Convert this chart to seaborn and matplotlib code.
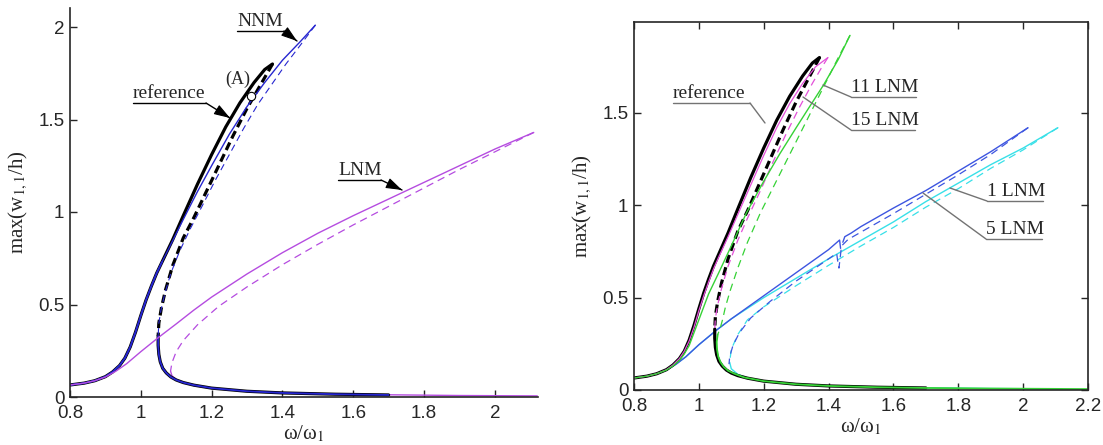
import matplotlib
matplotlib.use("Agg")
import matplotlib.pyplot as plt
from matplotlib.lines import Line2D
import seaborn as sns

# ---- reference solution (shared by both panels) ----
ref_up_w = [0.80, 0.84, 0.87, 0.90, 0.92, 0.94, 0.955, 0.97, 0.985, 1.00, 1.015, 1.03, 1.045, 1.06, 1.09, 1.12, 1.16, 1.20, 1.24, 1.28, 1.32, 1.35, 1.372]
ref_up_a = [0.065, 0.075, 0.088, 0.11, 0.135, 0.17, 0.21, 0.27, 0.35, 0.44, 0.525, 0.60, 0.67, 0.73, 0.85, 0.98, 1.15, 1.31, 1.46, 1.59, 1.70, 1.77, 1.80]
ref_un_w = [1.372, 1.36, 1.33, 1.30, 1.26, 1.22, 1.18, 1.15, 1.12, 1.09, 1.07, 1.058, 1.051, 1.049]
ref_un_a = [1.80, 1.76, 1.66, 1.56, 1.41, 1.25, 1.09, 0.97, 0.86, 0.71, 0.58, 0.48, 0.40, 0.33]
ref_lo_w = [1.049, 1.049, 1.051, 1.055, 1.062, 1.072, 1.085, 1.10, 1.12, 1.15, 1.20, 1.30, 1.40, 1.55, 1.70]
ref_lo_a = [0.33, 0.28, 0.23, 0.19, 0.155, 0.13, 0.108, 0.092, 0.078, 0.064, 0.048, 0.031, 0.022, 0.015, 0.011]

# ---- left panel: NNM and LNM ----
nnm_up_w = [0.80, 0.84, 0.87, 0.90, 0.92, 0.94, 0.955, 0.97, 0.985, 1.00, 1.015, 1.03, 1.045, 1.06, 1.09, 1.12, 1.16, 1.20, 1.25, 1.30, 1.35, 1.40, 1.45, 1.493]
nnm_up_a = [0.065, 0.075, 0.088, 0.11, 0.135, 0.17, 0.21, 0.27, 0.35, 0.44, 0.525, 0.60, 0.67, 0.73, 0.845, 0.96, 1.11, 1.25, 1.42, 1.57, 1.70, 1.82, 1.92, 2.01]
nnm_un_w = [1.493, 1.45, 1.41, 1.37, 1.33, 1.29, 1.25, 1.21, 1.17, 1.14, 1.11, 1.085, 1.068, 1.057, 1.051, 1.049]
nnm_un_a = [2.01, 1.90, 1.80, 1.69, 1.58, 1.45, 1.31, 1.17, 1.02, 0.91, 0.79, 0.67, 0.56, 0.47, 0.40, 0.33]

lnm_up_w = [0.80, 0.84, 0.87, 0.90, 0.93, 0.96, 1.00, 1.05, 1.10, 1.15, 1.20, 1.30, 1.40, 1.50, 1.60, 1.70, 1.80, 1.90, 2.00, 2.11]
lnm_up_a = [0.065, 0.075, 0.088, 0.108, 0.14, 0.18, 0.245, 0.322, 0.395, 0.47, 0.54, 0.665, 0.78, 0.885, 0.98, 1.07, 1.16, 1.25, 1.34, 1.43]
lnm_un_w = [2.11, 2.00, 1.90, 1.80, 1.70, 1.60, 1.50, 1.40, 1.30, 1.22, 1.16, 1.12, 1.10, 1.088, 1.084]
lnm_un_a = [1.43, 1.325, 1.23, 1.13, 1.03, 0.93, 0.825, 0.715, 0.595, 0.49, 0.39, 0.305, 0.245, 0.185, 0.14]
lnm_lo_w = [1.084, 1.088, 1.10, 1.12, 1.15, 1.20, 1.30, 1.40, 1.55, 1.70, 1.90, 2.12]
lnm_lo_a = [0.14, 0.115, 0.095, 0.078, 0.062, 0.046, 0.031, 0.023, 0.016, 0.012, 0.008, 0.006]

# ---- right panel: 1, 5, 11, 15 LNM ----
l15_up_w = [0.80, 0.84, 0.87, 0.90, 0.92, 0.94, 0.955, 0.97, 0.985, 1.00, 1.015, 1.03, 1.045, 1.06, 1.09, 1.12, 1.16, 1.20, 1.24, 1.28, 1.32, 1.36, 1.398]
l15_up_a = [0.065, 0.075, 0.088, 0.11, 0.135, 0.17, 0.21, 0.265, 0.34, 0.43, 0.51, 0.585, 0.655, 0.715, 0.83, 0.95, 1.11, 1.27, 1.42, 1.55, 1.66, 1.75, 1.80]
l15_un_w = [1.398, 1.38, 1.35, 1.31, 1.27, 1.23, 1.19, 1.15, 1.12, 1.09, 1.07, 1.058, 1.051, 1.049]
l15_un_a = [1.80, 1.75, 1.66, 1.53, 1.39, 1.24, 1.08, 0.93, 0.81, 0.67, 0.55, 0.46, 0.39, 0.33]

l11_up_w = [0.80, 0.84, 0.87, 0.90, 0.92, 0.94, 0.955, 0.97, 0.985, 1.00, 1.015, 1.03, 1.06, 1.10, 1.147, 1.20, 1.25, 1.30, 1.34, 1.384, 1.43, 1.466]
l11_up_a = [0.065, 0.075, 0.088, 0.108, 0.13, 0.16, 0.195, 0.24, 0.31, 0.38, 0.45, 0.52, 0.63, 0.78, 0.96, 1.13, 1.28, 1.42, 1.53, 1.65, 1.79, 1.92]
l11_un_w = [1.466, 1.43, 1.39, 1.35, 1.31, 1.27, 1.23, 1.19, 1.15, 1.12, 1.097, 1.082, 1.073, 1.065, 1.058]
l11_un_a = [1.92, 1.80, 1.66, 1.52, 1.38, 1.24, 1.10, 0.96, 0.80, 0.66, 0.54, 0.45, 0.38, 0.33, 0.30]
l11_lo_w = [1.058, 1.055, 1.056, 1.06, 1.067, 1.077, 1.09, 1.11, 1.14, 1.20, 1.30, 1.40, 1.55, 1.70, 1.90, 2.20]
l11_lo_a = [0.30, 0.26, 0.22, 0.18, 0.15, 0.125, 0.105, 0.088, 0.068, 0.048, 0.031, 0.022, 0.015, 0.011, 0.008, 0.005]

l1_up_w = [0.80, 0.84, 0.87, 0.90, 0.93, 0.96, 1.00, 1.055, 1.10, 1.20, 1.30, 1.40, 1.434, 1.437]
l1_up_a = [0.065, 0.075, 0.088, 0.108, 0.14, 0.18, 0.245, 0.325, 0.385, 0.51, 0.635, 0.76, 0.812, 0.767]
l1_up2_w = [1.444, 1.45, 1.47, 1.50, 1.60, 1.70, 1.80, 1.90, 2.015]
l1_up2_a = [0.80, 0.83, 0.85, 0.885, 0.985, 1.08, 1.185, 1.29, 1.42]
l1_un_w = [2.015, 1.90, 1.80, 1.70, 1.60, 1.50, 1.46, 1.44, 1.432, 1.428, 1.425, 1.40, 1.30, 1.22, 1.16, 1.125, 1.105, 1.095, 1.093]
l1_un_a = [1.42, 1.275, 1.165, 1.06, 0.955, 0.855, 0.815, 0.78, 0.66, 0.70, 0.74, 0.71, 0.59, 0.48, 0.39, 0.31, 0.24, 0.18, 0.14]

l5_up_w = [0.80, 0.84, 0.87, 0.90, 0.93, 0.96, 1.00, 1.055, 1.10, 1.20, 1.30, 1.40, 1.50, 1.60, 1.70, 1.80, 1.90, 2.00, 2.107]
l5_up_a = [0.065, 0.075, 0.088, 0.108, 0.14, 0.18, 0.245, 0.325, 0.385, 0.50, 0.605, 0.71, 0.81, 0.91, 1.02, 1.12, 1.22, 1.31, 1.42]
l5_un_w = [2.107, 2.00, 1.90, 1.80, 1.70, 1.60, 1.50, 1.40, 1.30, 1.20, 1.15, 1.12, 1.10, 1.095]
l5_un_a = [1.42, 1.30, 1.20, 1.09, 0.99, 0.88, 0.78, 0.675, 0.565, 0.45, 0.38, 0.30, 0.22, 0.15]
l5_lo_w = [1.095, 1.10, 1.12, 1.15, 1.20, 1.30, 1.40, 1.55, 1.70, 1.90, 2.12]
l5_lo_a = [0.15, 0.115, 0.085, 0.065, 0.047, 0.031, 0.023, 0.016, 0.012, 0.008, 0.006]

BLACK = "black"
NNM_C = "#2626d0"
LNM_C = "#b54ce0"
C15 = "#e34fd9"
C11 = "#36d236"
C1 = "#3d55e0"
C5 = "#38e0e8"

W, H = 1103, 445
THICK_DASH = (0, (2.6, 1.4))
THIN_DASH = (0, (6, 4))


def draw(ax, w, a, color, lw, ls="-"):
    sns.lineplot(x=w, y=a, ax=ax, color=color, linewidth=lw, linestyle=ls,
                 sort=False, estimator=None, legend=False)


def px(x, y):
    return (x / W, 1 - y / H)


def label(text, x0, x1, y_line, tip, line_color="black"):
    # underlined label with a leader line ending in an arrow
    fig.text(*px(x0, y_line - 1), text, fontsize=14, family="Liberation Serif",
             ha="left", va="bottom")
    fig.add_artist(Line2D([x0 / W, x1 / W], [1 - y_line / H] * 2,
                          transform=fig.transFigure, color=line_color, lw=1.0))
    tail = (x1, y_line) if tip[0] > x1 else (x0, y_line)
    fig.add_artist(Line2D([tail[0] / W, tip[0] / W], [1 - tail[1] / H, 1 - tip[1] / H],
                          transform=fig.transFigure, color=line_color, lw=1.0))
    ax1.annotate("", xy=px(*tip), xycoords="figure fraction",
                 xytext=px(tip[0] - (tip[0] - tail[0]) * 0.4, tip[1] - (tip[1] - tail[1]) * 0.4),
                 textcoords="figure fraction",
                 arrowprops=dict(arrowstyle="-|>,head_length=0.9,head_width=0.3",
                                 color="black", lw=0.8, shrinkA=0, shrinkB=0,
                                 mutation_scale=11))


sns.set_style("ticks")
plt.rcParams["font.family"] = ["Liberation Sans", "DejaVu Sans"]
plt.rcParams["mathtext.fontset"] = "stix"
plt.rcParams["xtick.direction"] = "in"
plt.rcParams["ytick.direction"] = "in"

fig = plt.figure(figsize=(W / 100, H / 100), dpi=100)
ax1 = fig.add_axes([70 / W, 1 - 397 / H, 468 / W, 389 / H])
ax2 = fig.add_axes([634 / W, 1 - 390 / H, 454 / W, 368 / H])

# left panel
draw(ax1, lnm_lo_w, lnm_lo_a, LNM_C, 1.0)
draw(ax1, lnm_un_w, lnm_un_a, LNM_C, 0.9, THIN_DASH)
draw(ax1, ref_up_w, ref_up_a, BLACK, 2.3)
draw(ax1, ref_un_w, ref_un_a, BLACK, 2.3, THICK_DASH)
draw(ax1, ref_lo_w, ref_lo_a, BLACK, 2.3)
draw(ax1, nnm_up_w, nnm_up_a, NNM_C, 1.0)
draw(ax1, nnm_un_w, nnm_un_a, NNM_C, 0.8, THIN_DASH)
draw(ax1, ref_lo_w, ref_lo_a, NNM_C, 1.3)
draw(ax1, ref_up_w[:14], ref_up_a[:14], NNM_C, 1.3)
draw(ax1, lnm_up_w, lnm_up_a, LNM_C, 1.0)
ax1.plot([1.311], [1.627], marker="o", ms=6, mfc="white", mec="black", mew=0.8)

ax1.set_xlim(0.8, 0.8 + 468 / 354)
ax1.set_ylim(0, 389 / 185)
ax1.set_xticks([0.8, 1, 1.2, 1.4, 1.6, 1.8, 2])
ax1.set_xticklabels(["0.8", "1", "1.2", "1.4", "1.6", "1.8", "2"])
ax1.set_yticks([0, 0.5, 1, 1.5, 2])
ax1.set_yticklabels(["0", "0.5", "1", "1.5", "2"])
sns.despine(ax=ax1)

# right panel
draw(ax2, l5_lo_w, l5_lo_a, C5, 1.0)
draw(ax2, l5_up_w, l5_up_a, C5, 1.0)
draw(ax2, l5_un_w, l5_un_a, C5, 0.9, THIN_DASH)
draw(ax2, l1_up_w, l1_up_a, C1, 1.0)
draw(ax2, l1_up2_w, l1_up2_a, C1, 1.0)
draw(ax2, l1_un_w, l1_un_a, C1, 0.9, THIN_DASH)
draw(ax2, ref_up_w, ref_up_a, BLACK, 2.3)
draw(ax2, ref_un_w, ref_un_a, BLACK, 2.3, THICK_DASH)
draw(ax2, ref_lo_w, ref_lo_a, BLACK, 2.3)
draw(ax2, l15_up_w, l15_up_a, C15, 0.9)
draw(ax2, l15_un_w, l15_un_a, C15, 0.9, THIN_DASH)
draw(ax2, l11_up_w, l11_up_a, C11, 1.0)
draw(ax2, l11_un_w, l11_un_a, C11, 0.9, THIN_DASH)
draw(ax2, l11_lo_w, l11_lo_a, C11, 1.3)

ax2.set_xlim(0.8, 2.2)
ax2.set_ylim(0, 368 / 184.7)
ax2.set_xticks([0.8, 1, 1.2, 1.4, 1.6, 1.8, 2, 2.2])
ax2.set_xticklabels(["0.8", "1", "1.2", "1.4", "1.6", "1.8", "2", "2.2"])
ax2.set_yticks([0, 0.5, 1, 1.5])
ax2.set_yticklabels(["0", "0.5", "1", "1.5"])
ax2.tick_params(top=True, right=True)

for ax in (ax1, ax2):
    ax.tick_params(labelsize=13.5, length=5, width=1)
    ax.tick_params(axis="x", pad=6)
    ax.tick_params(axis="y", pad=4)
    for s in ax.spines.values():
        s.set_linewidth(1.2)
    ax.set_xlabel("ω/ω$_1$", family="Liberation Serif", fontsize=15, labelpad=1)
    ax.set_ylabel("max(w$_{1,1}$/h)", family="Liberation Serif", fontsize=15, labelpad=6)

# annotations
label("NNM", 237, 284, 31, (297, 41))
label("reference", 133, 206, 103, (230, 118))
label("LNM", 338, 381, 180, (402, 190))
fig.text(*px(225, 88), "(A)", fontsize=13, family="Liberation Serif", ha="left", va="bottom")

label("reference", 673, 750, 103, (765, 123), "0.45")
label("11 LNM", 851, 916, 97, (823, 85), "0.45")
label("15 LNM", 851, 915, 130, (803, 97), "0.45")
label("1 LNM", 987, 1043, 201, (950, 188), "0.45")
label("5 LNM", 986, 1042, 239, (923, 193), "0.45")

fig.savefig("out.png", dpi=100)
